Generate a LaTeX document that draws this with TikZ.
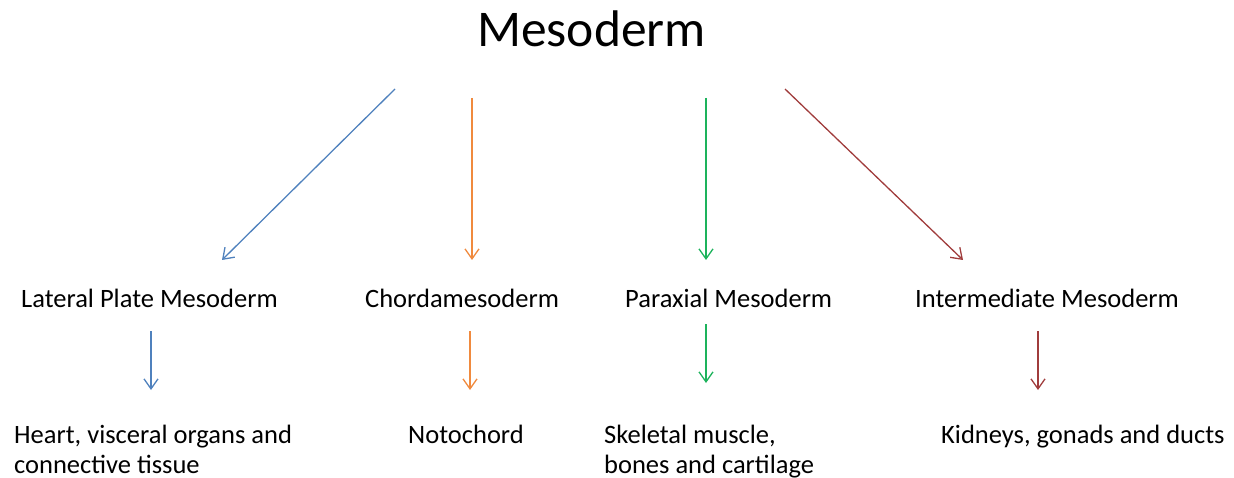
\documentclass[tikz,border=0pt]{standalone}
\usepackage{fontspec}
\setmainfont{Carlito}
\usetikzlibrary{arrows.meta}
\definecolor{cblue}{HTML}{4F81BD}
\definecolor{corange}{HTML}{F08A3E}
\definecolor{cgreen}{HTML}{1DB35C}
\definecolor{cred}{HTML}{A03C3C}
\tikzset{
  title/.style={anchor=base, inner sep=0pt, font=\fontsize{51.5}{60}\selectfont},
  lbl/.style={anchor=base west, inner sep=0pt, font=\fontsize{26.5}{30.5}\selectfont},
  sub/.style={anchor=base west, inner sep=0pt, align=left, font=\fontsize{26.5}{30.5}\selectfont},
  arr/.style={line width=1.3pt, -{Straight Barb[length=10pt, width=14pt, line width=1.3pt]}},
}
\begin{document}
\begin{tikzpicture}[x=1pt, y=-1pt]
\useasboundingbox (0,0) rectangle (1234,478);
\node[title] (meso) at (591.5,47) {Mesoderm};
\node[lbl] (lat) at (21,308) {Lateral Plate Mesoderm};
\node[lbl] (chor) at (365,308) {Chordamesoderm};
\node[lbl] (para) at (625,308) {Paraxial Mesoderm};
\node[lbl] (inter) at (915,308) {Intermediate Mesoderm};
\node[sub] (heart) at (14,473.5) {Heart, visceral organs and\\connective tissue};
\node[lbl] (noto) at (408,443) {Notochord};
\node[sub] (skel) at (604,473.5) {Skeletal muscle,\\bones and cartilage};
\node[lbl] (kid) at (941,443) {Kidneys, gonads and ducts};
% arrow ends
\coordinate (b1) at (395,89);  \coordinate (b2) at (222,260);
\coordinate (o1) at (472,98);  \coordinate (o2) at (472,260);
\coordinate (g1) at (706,98);  \coordinate (g2) at (706,260);
\coordinate (r1) at (785,89);  \coordinate (r2) at (963,260);
\coordinate (b3) at (151,331); \coordinate (b4) at (151,390);
\coordinate (o3) at (470,331); \coordinate (o4) at (470,390);
\coordinate (g3) at (706,324); \coordinate (g4) at (706,383);
\coordinate (r3) at (1038,331); \coordinate (r4) at (1038,390);
\draw[arr, cblue] (b1) -- (b2);
\draw[arr, corange] (o1) -- (o2);
\draw[arr, cgreen] (g1) -- (g2);
\draw[arr, cred] (r1) -- (r2);
\draw[arr, cblue] (b3) -- (b4);
\draw[arr, corange] (o3) -- (o4);
\draw[arr, cgreen] (g3) -- (g4);
\draw[arr, cred] (r3) -- (r4);
\end{tikzpicture}
\end{document}
